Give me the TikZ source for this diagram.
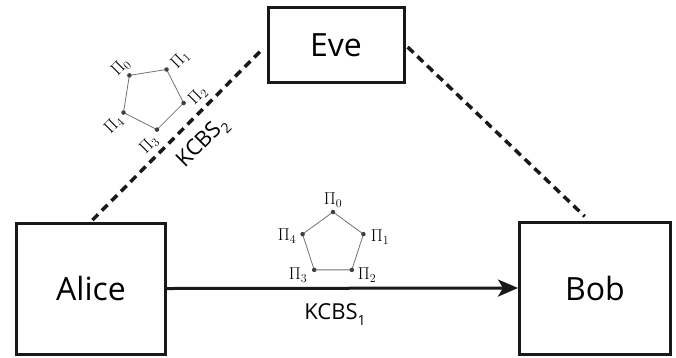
\documentclass[tikz,border=0pt]{standalone}
\usepackage{fontspec}
\setmainfont{Open Sans}
\usetikzlibrary{arrows.meta}
\tikzset{
  party/.style={draw=black!90, line width=3pt, inner sep=0pt, font=\fontsize{32}{32}\selectfont},
  quantum/.style={draw=black!90, line width=3.5pt, dash pattern=on 8pt off 5.5pt, shorten <=2pt, shorten >=4pt},
  channel/.style={draw=black!90, line width=3pt, -{Stealth[length=20pt,width=17pt,inset=5pt]}},
  pedge/.style={draw=black!55, line width=0.8pt},
  pdot/.style={circle, fill=black!75, inner sep=0pt, minimum size=4.5pt},
  plabel/.style={inner sep=0pt, transform shape, font=\fontsize{17}{17}\selectfont},
  kcbs/.style={inner sep=0pt, font=\fontsize{22}{22}\selectfont}
}
\newcommand\pisub[1]{$\Pi_{#1}$}
\newcommand\kcbsgraph[3]{%
  \begin{scope}[shift={#1}, rotate=#2]
    \foreach \i/\a in {0/90,1/18,2/-54,3/-126,4/162}{
      \coordinate (#3v\i) at (\a:32);
    }
    \draw[pedge] (#3v0) -- (#3v1) -- (#3v2) -- (#3v3) -- (#3v4) -- cycle;
    \foreach \i in {0,...,4}{ \node[pdot] (#3d\i) at (#3v\i) {}; }
    \node[plabel] (#3l0) at (0,44) {\pisub{0}};
    \node[plabel] (#3l1) at (47,7) {\pisub{1}};
    \node[plabel] (#3l2) at (34,-31) {\pisub{2}};
    \node[plabel] (#3l3) at (-35,-31) {\pisub{3}};
    \node[plabel] (#3l4) at (-46,8) {\pisub{4}};
  \end{scope}}
\begin{document}
\begin{tikzpicture}[x=1pt,y=1pt]
\useasboundingbox (0,0) rectangle (676,-357);
\node[party, minimum width=149pt, minimum height=131pt] (alice) at (91,-288.5) {Alice};
\node[party, minimum width=151pt, minimum height=132pt] (bob) at (595,-288) {Bob};
\node[party, minimum width=136pt, minimum height=75pt] (eve) at (336,-45) {Eve};
\draw[quantum] (alice.north) -- (eve.west);
\draw[quantum, shorten <=3pt, shorten >=6pt] (eve.east) -- ([xshift=-6pt]bob.north);
\draw[channel] (alice.east) -- (bob.west);
\kcbsgraph{(333,-244)}{0}{a}
\kcbsgraph{(152,-98)}{45}{b}
\node[kcbs] (k1) at (335,-315) {KCBS\raisebox{-6pt}{\fontsize{14}{14}\selectfont 1}};
\node[kcbs, rotate=45] (k2) at (203,-143) {KCBS\raisebox{-6pt}{\fontsize{14}{14}\selectfont 2}};
\end{tikzpicture}
\end{document}
